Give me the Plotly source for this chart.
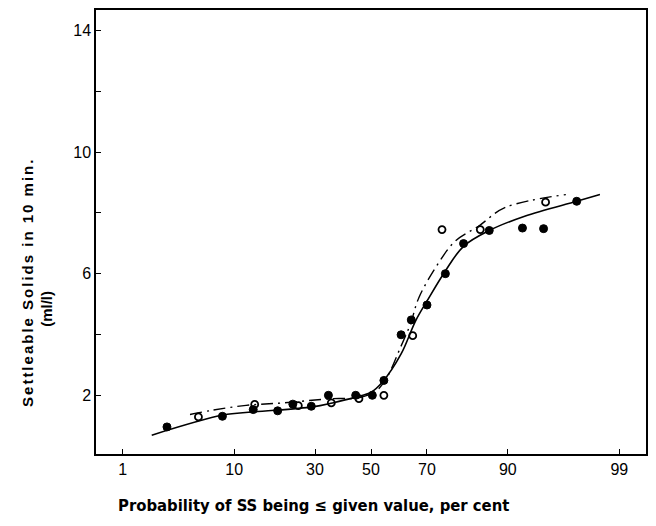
from statistics import NormalDist
import plotly.graph_objects as go

# ---- data (probability in per cent, settleable solids ml/l) ----
filled_p = [2.8, 8.2, 13.5, 19.1, 23.2, 28.8, 34.5, 44.3, 50.5, 54.8, 61.1, 64.7, 70.0, 75.7, 80.7, 86.6, 92.2, 94.7, 97.3]
filled_y = [0.96, 1.31, 1.53, 1.49, 1.71, 1.64, 2.00, 2.00, 2.00, 2.49, 3.99, 4.48, 4.97, 6.00, 6.99, 7.42, 7.50, 7.48, 8.38]

open_p = [5.3, 13.8, 24.8, 35.5, 45.5, 54.8, 65.2, 74.7, 84.7, 94.9]
open_y = [1.29, 1.70, 1.66, 1.75, 1.89, 2.00, 3.96, 7.45, 7.45, 8.35]

solid_p = [2.0, 8.3, 13.4, 29.2, 35.9, 44.3, 50.0, 54.2, 61.1, 66.2, 70.0, 75.7, 80.7, 86.6, 92.5, 97.3, 98.4]
solid_y = [0.69, 1.35, 1.45, 1.62, 1.75, 1.94, 2.10, 2.43, 3.36, 4.45, 5.10, 6.09, 6.90, 7.42, 7.89, 8.38, 8.60]

dash_p = [4.5, 6.9, 12.1, 20.4, 35.9, 45.5, 52.0, 56.0, 60.9, 64.4, 67.3, 73.7, 78.5, 84.3, 89.5, 96.6]
dash_y = [1.37, 1.51, 1.67, 1.75, 1.89, 1.92, 2.15, 2.60, 3.58, 4.34, 5.21, 6.36, 7.07, 7.56, 8.17, 8.60]

x_ticks = [1, 10, 30, 50, 70, 90, 99]
y_ticks = [2, 6, 10, 14]
y_minor = [4, 8, 12]

nd = NormalDist()
def z(ps):
    return [nd.inv_cdf(p / 100.0) for p in ps]

fig = go.Figure()
fig.add_trace(go.Scatter(x=z(solid_p), y=solid_y, mode="lines",
                         line=dict(color="black", width=1.6, shape="spline", smoothing=1.0),
                         showlegend=False, hoverinfo="skip"))
fig.add_trace(go.Scatter(x=z(dash_p), y=dash_y, mode="lines",
                         line=dict(color="black", width=1.4, shape="spline", smoothing=1.0,
                                   dash="12px,5px,2px,5px"),
                         showlegend=False, hoverinfo="skip"))
fig.add_trace(go.Scatter(x=z(filled_p), y=filled_y, mode="markers",
                         marker=dict(symbol="circle", size=8, color="black",
                                     line=dict(color="black", width=1)),
                         showlegend=False))
fig.add_trace(go.Scatter(x=z(open_p), y=open_y, mode="markers",
                         marker=dict(symbol="circle-open", size=7, color="black",
                                     line=dict(color="black", width=1.8)),
                         showlegend=False))

tick_font = dict(family="Liberation Sans, Arial, sans-serif", size=16, color="black")

fig.update_xaxes(
    range=[nd.inv_cdf(0.005), nd.inv_cdf(0.995)],
    tickmode="array", tickvals=z(x_ticks), ticktext=[str(t) for t in x_ticks],
    ticks="inside", ticklen=5, tickwidth=1, tickcolor="black",
    showline=True, linecolor="black", linewidth=1.5, mirror=True,
    showgrid=False, zeroline=False, tickfont=tick_font,
)
fig.update_yaxes(
    range=[0.07, 14.67],
    tickmode="array", tickvals=y_ticks, ticktext=[str(t) for t in y_ticks],
    ticks="inside", ticklen=5, tickwidth=1, tickcolor="black",
    minor=dict(tickmode="array", tickvals=y_minor, ticks="inside", ticklen=5, tickcolor="black"),
    showline=True, linecolor="black", linewidth=1.5, mirror=True,
    showgrid=False, zeroline=False, tickfont=tick_font,
)

bold_font = dict(family="Liberation Sans, Arial, sans-serif", size=15, color="black", weight="bold")
narrow_font = dict(family="Liberation Sans Narrow, DejaVu Sans Condensed, Arial Narrow, sans-serif",
                   size=16.5, color="black", weight="bold")

fig.add_annotation(text="Settleable Solids in 10 min.", textangle=-90,
                   xref="paper", yref="paper", x=0, y=(454 - 282) / 446.5,
                   xshift=-(96 - 28), xanchor="center", yanchor="middle",
                   showarrow=False, font=bold_font)
fig.add_annotation(text="(ml/l)", textangle=-90,
                   xref="paper", yref="paper", x=0, y=(454 - 308) / 446.5,
                   xshift=-(96 - 47), xanchor="center", yanchor="middle",
                   showarrow=False, font=bold_font)
fig.add_annotation(text="Probability of SS being \u2264 given value, per cent",
                   xref="paper", yref="paper", x=(314 - 96) / 551, y=0,
                   yshift=-51, xanchor="center", yanchor="middle",
                   showarrow=False, font=narrow_font)

fig.update_layout(
    width=656, height=526,
    margin=dict(l=96, r=9, t=8, b=72),
    paper_bgcolor="white", plot_bgcolor="white",
)

spacing_js = """
var gd = document.getElementById('{plot_id}');
gd.querySelectorAll('.annotation-text').forEach(function (t) {
  if (t.textContent.indexOf('Settleable') >= 0) { t.style.letterSpacing = '2px'; }
});
"""

fig.write_html("out.html", post_script=spacing_js)
